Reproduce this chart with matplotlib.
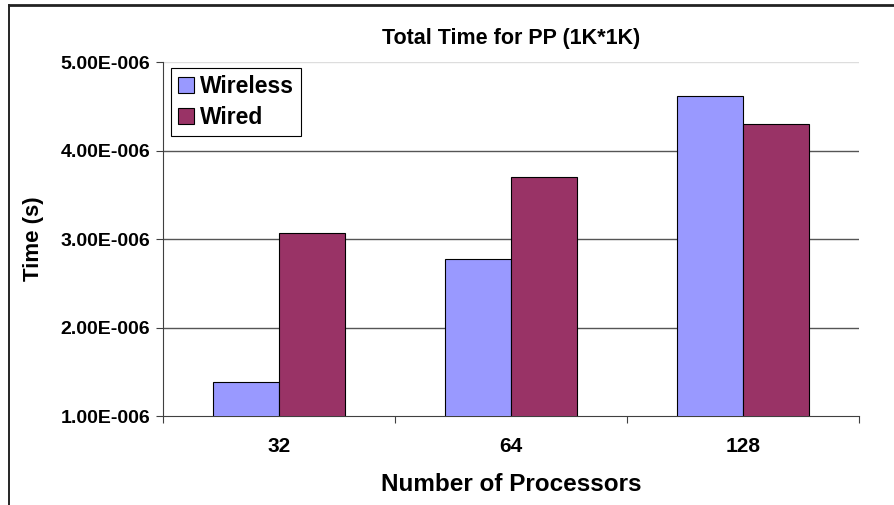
import matplotlib.pyplot as plt
import numpy as np
from matplotlib.lines import Line2D
from matplotlib.patches import Patch

processors = ["32", "64", "128"]
wireless = [1.38e-6, 2.77e-6, 4.62e-6]
wired = [3.07e-6, 3.70e-6, 4.30e-6]
y_ticks = [1e-6, 2e-6, 3e-6, 4e-6, 5e-6]
y_tick_labels = ["1.00E-006", "2.00E-006", "3.00E-006", "4.00E-006", "5.00E-006"]

plt.rcParams["font.family"] = ["Liberation Sans", "DejaVu Sans"]
plt.rcParams["font.weight"] = "bold"

fig = plt.figure(figsize=(8.95, 5.05), dpi=100)
ax = fig.add_axes([0.1821, 0.1762, 0.7777, 0.7010])

# Excel-style clustered columns, gap width 150%
bar_w = 1 / 3.5
x = np.arange(len(processors))
ax.bar(x - bar_w / 2, wireless, width=bar_w, color="#9999ff",
       edgecolor="black", linewidth=0.8, label="Wireless", zorder=3)
ax.bar(x + bar_w / 2, wired, width=bar_w, color="#993366",
       edgecolor="black", linewidth=0.8, label="Wired", zorder=3)

ax.set_xlim(-0.5, len(processors) - 0.5)
ax.set_ylim(1e-6, 5e-6)

ax.set_yticks(y_ticks)
ax.set_yticklabels(y_tick_labels, fontsize=14, fontweight="bold")
ax.set_xticks(x)
ax.set_xticklabels(processors, fontsize=15, fontweight="bold")
ax.tick_params(axis="x", length=0, pad=15)
ax.tick_params(axis="y", length=5, width=0.8, direction="out", color="#404040", pad=4)

# category separators on the x axis
ax.set_xticks(np.arange(len(processors) + 1) - 0.5, minor=True)
ax.tick_params(axis="x", which="minor", length=5, width=0.8, color="#404040")

for yv in y_ticks[1:-1]:
    ax.axhline(yv, color="#555555", linewidth=1.0, zorder=1)
ax.axhline(y_ticks[-1], color="#dddddd", linewidth=1.0, zorder=1)

for side in ["top", "right"]:
    ax.spines[side].set_visible(False)
ax.spines["left"].set_color("#404040")
ax.spines["bottom"].set_color("#404040")
ax.spines["left"].set_linewidth(0.8)
ax.spines["bottom"].set_linewidth(0.8)

ax.set_title("Total Time for PP (1K*1K)", fontsize=15.5, fontweight="bold", pad=13)
ax.set_ylabel("Time (s)", fontsize=16, fontweight="bold", labelpad=12)
ax.set_xlabel("Number of Processors", fontsize=17.5, fontweight="bold", labelpad=12)

handles = [Patch(facecolor="#9999ff", edgecolor="black", linewidth=0.8),
           Patch(facecolor="#993366", edgecolor="black", linewidth=0.8)]
leg = ax.legend(handles, ["Wireless", "Wired"], loc="upper left",
                bbox_to_anchor=(0.012, 0.983), fancybox=False, framealpha=1,
                edgecolor="black", prop={"size": 16.5, "weight": "bold"},
                handlelength=0.7, handleheight=0.7, handletextpad=0.25,
                borderpad=0.3, labelspacing=0.35, borderaxespad=0)
leg.get_frame().set_linewidth(0.8)

# outer chart frame (left and top edges)
fig.add_artist(Line2D([9 / 895, 9 / 895], [0, 1 - 5 / 505], color="black", linewidth=1.2))
fig.add_artist(Line2D([9 / 895, 1], [1 - 5 / 505, 1 - 5 / 505], color="#222222", linewidth=2.0))

fig.savefig("out.png", dpi=100)
